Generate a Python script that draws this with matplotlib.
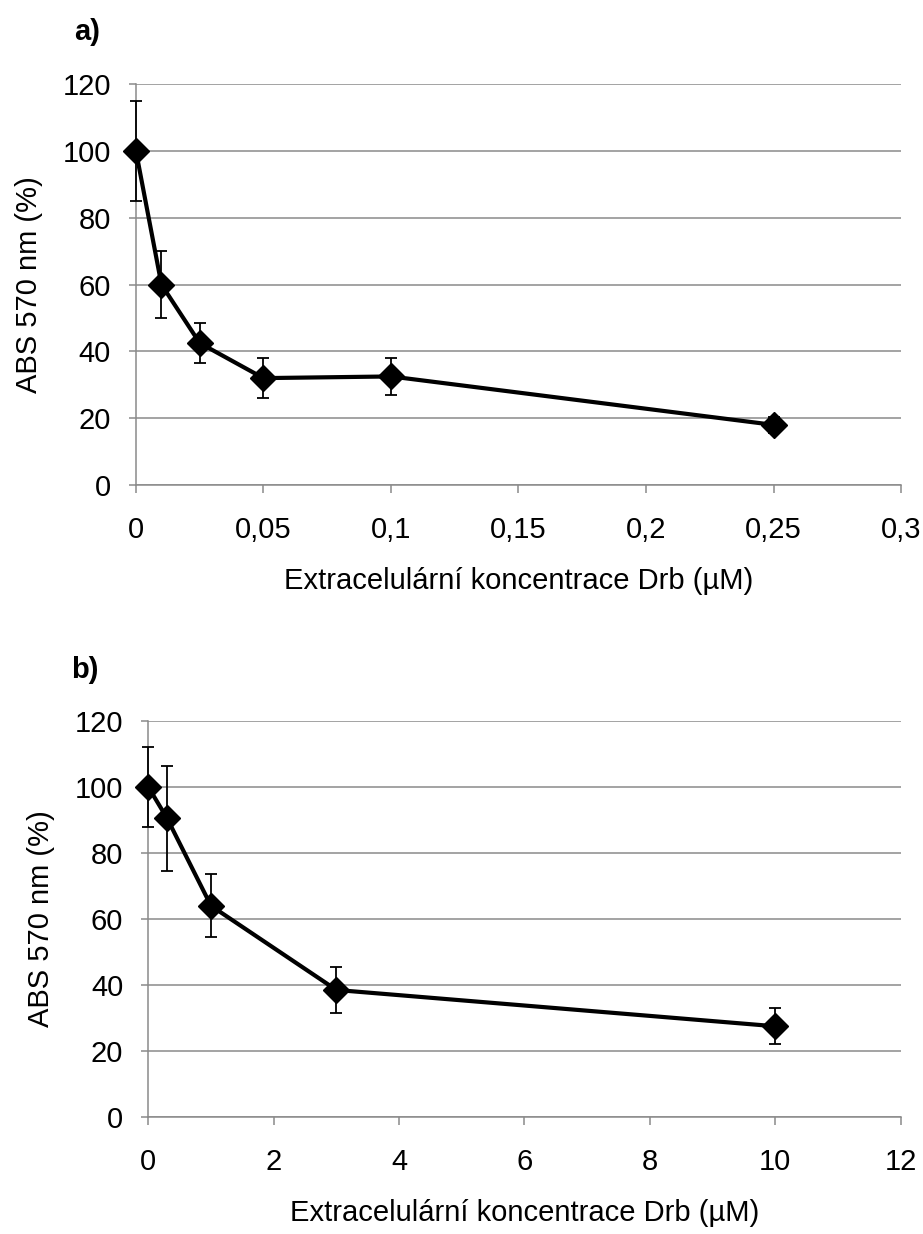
#!/usr/bin/env python

# matplotlib, numpy
import numpy as np
import matplotlib
matplotlib.use("Agg")
import matplotlib.pyplot as plt

plt.rcParams["font.family"] = ["Liberation Sans", "DejaVu Sans"]

# panel a - low concentrations
conc_a = [0, 0.01, 0.025, 0.05, 0.1, 0.25]
abs_a = [100, 60, 42.5, 32, 32.5, 18]
err_a = [15, 10, 6, 6, 5.5, 2.5]
xticks_a = [0, 0.05, 0.1, 0.15, 0.2, 0.25, 0.3]
xticklabels_a = ["0", "0,05", "0,1", "0,15", "0,2", "0,25", "0,3"]

# panel b - high concentrations
conc_b = [0, 0.3, 1, 3, 10]
abs_b = [100, 90.5, 64, 38.5, 27.5]
err_b = [12, 16, 9.5, 7, 5.5]
xticks_b = [0, 2, 4, 6, 8, 10, 12]
xticklabels_b = ["0", "2", "4", "6", "8", "10", "12"]

yticks = [0, 20, 40, 60, 80, 100, 120]

xlabel = "Extracelulární koncentrace Drb (µM)"
ylabel = "ABS 570 nm (%)"

grey = "#8a8a8a"


def draw_panel(ax, x, y, err, xticks, xticklabels, letter, letter_x):
    """
    Draws one dose-response panel with error bars
    """
    ax.set_axisbelow(True)
    ax.yaxis.grid(True, color=grey, linewidth=1.1)
    ax.errorbar(x, y, yerr=err, color="black", linewidth=3.0,
                marker="D", markersize=13.5, ecolor="black",
                elinewidth=1.3, capsize=4.5, capthick=1.3,
                clip_on=False, zorder=3)
    ax.set_ylim(0, 120)
    ax.set_xlim(xticks[0], xticks[-1])
    ax.set_yticks(yticks)
    ax.set_xticks(xticks)
    ax.set_xticklabels(xticklabels)
    for side in ["top", "right"]:
        ax.spines[side].set_visible(False)
    for side in ["left", "bottom"]:
        ax.spines[side].set_color(grey)
        ax.spines[side].set_linewidth(1.1)
    ax.tick_params(axis="y", length=5, width=1.1, color=grey,
                   labelsize=21, pad=13)
    ax.tick_params(axis="x", length=6, width=1.1, color=grey,
                   labelsize=21, pad=16)
    ax.set_xlabel(xlabel, fontsize=21, labelpad=17)
    ax.set_ylabel(ylabel, fontsize=21, labelpad=14)
    ax.text(letter_x, 1.13, letter, transform=ax.transAxes, fontsize=21,
            fontweight="bold", ha="center", va="center")


fig = plt.figure(figsize=(9.23, 12.34), dpi=100)
ax_a = fig.add_axes([0.1473, 0.6070, 0.8289, 0.3247])
ax_b = fig.add_axes([0.1607, 0.0948, 0.8151, 0.3209])

draw_panel(ax_a, conc_a, abs_a, err_a, xticks_a, xticklabels_a, "a)", -0.064)
draw_panel(ax_b, conc_b, abs_b, err_b, xticks_b, xticklabels_b, "b)", -0.085)

plt.savefig("out.png", dpi=100, facecolor="white")
